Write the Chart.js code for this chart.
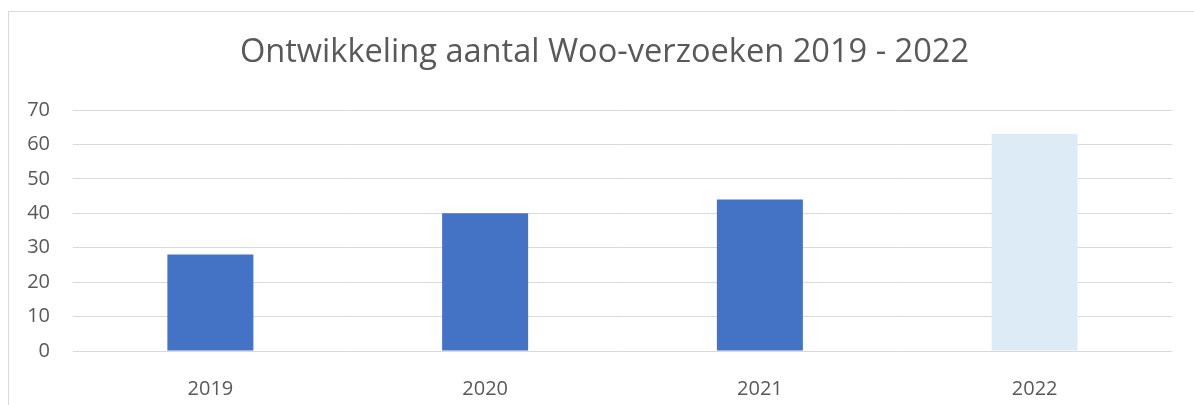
<!DOCTYPE html>
<html lang="nl">
<head>
<meta charset="utf-8">
<title>Ontwikkeling aantal Woo-verzoeken 2019 - 2022</title>
<script src="https://cdn.jsdelivr.net/npm/chart.js@4"></script>
<style>
    html, body { margin: 0; padding: 0; background: #fff; overflow: hidden; }
    .frame {
        position: absolute; left: 8px; top: 11px;
        width: 2000px; height: 1000px;
        border: 1px solid #d9d9d9;
    }
    #wrap { position: absolute; left: 0; top: 0; width: 1194px; height: 405px; }
</style>
</head>
<body>
<div class="frame"></div>
<div id="wrap"><canvas id="barChart" width="1194" height="405"></canvas></div>
<script>
// ── Data ─────────────────────────────────
const years    = ['2019', '2020', '2021', '2022'];
const requests = [28, 40, 44, 63];
const yTicks   = [0, 10, 20, 30, 40, 50, 60, 70];

const barColors = ['#4472c4', '#4472c4', '#4472c4', '#ddebf7'];

Chart.defaults.font.family = "'Open Sans', sans-serif";
Chart.defaults.color       = '#595959';

new Chart(document.getElementById('barChart'), {
    type: 'bar',
    data: {
        labels: years,
        datasets: [{
            label: 'Woo-verzoeken',
            data: requests,
            backgroundColor: barColors,
            borderWidth: 0,
            categoryPercentage: 1,
            barPercentage: 0.313,
        }]
    },
    options: {
        responsive: false,
        animation: false,
        layout: { padding: { left: 15, right: 0, top: 0, bottom: 0 } },
        plugins: {
            legend: { display: false },
            tooltip: { enabled: false },
            title: {
                display: true,
                text: 'Ontwikkeling aantal Woo-verzoeken 2019 - 2022',
                color: '#595959',
                font: { size: 32.6, weight: 'normal' },
                padding: { top: 33.5, bottom: 37.4 }
            }
        },
        scales: {
            x: {
                grid: { display: false },
                border: { display: false },
                ticks: { font: { size: 20 }, padding: 18 },
                afterFit: (s) => { s.height = 54; }
            },
            y: {
                min: 0,
                max: 70,
                afterBuildTicks: (s) => { s.ticks = yTicks.map(v => ({ value: v })); },
                grid: { color: '#d9d9d9', lineWidth: 1, drawTicks: false },
                border: { display: false },
                ticks: { font: { size: 20 }, padding: 23 },
                afterFit: (s) => { s.width = 58; }
            },
            // empty spacer on the right so the plot ends where the reference does
            yRight: {
                position: 'right',
                grid: { display: false },
                border: { display: false },
                ticks: { display: false },
                afterFit: (s) => { s.width = 22; }
            }
        }
    }
});
</script>
</body>
</html>
